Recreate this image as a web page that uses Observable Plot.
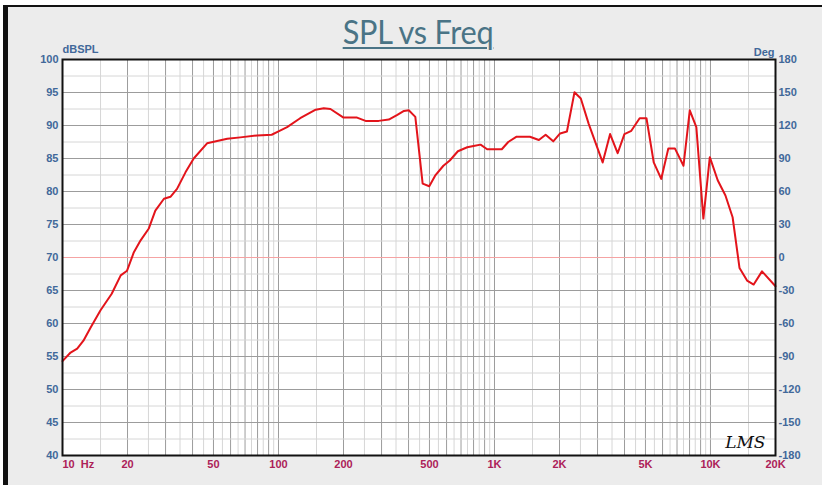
<!DOCTYPE html>
<html>
<head>
<meta charset="utf-8">
<script src="https://cdn.jsdelivr.net/npm/d3@7"></script>
<script src="https://cdn.jsdelivr.net/npm/@observablehq/plot@0.6"></script>
<style>
  html, body { margin: 0; padding: 0; background: #ffffff; }
  #wrap { position: relative; width: 822px; height: 485px; overflow: hidden; }
  #frame { position: absolute; left: 3px; top: 5px; width: 819px; height: 480px; background: #ececec;
           border-top: 2px solid #111; border-left: 5px solid #111; box-sizing: border-box; }
  #title { position: absolute; left: 0; width: 836px; top: 13px; text-align: center;
           font-family: Lato, "Open Sans", sans-serif; font-size: 33px; line-height: 36px; color: #4a7486;
           text-decoration: underline; text-decoration-thickness: 2px; text-underline-offset: 3px; letter-spacing: -0.3px;
           transform: scaleX(0.93); transform-origin: 418px 0; }
  #chart { position: absolute; left: 0; top: 0; }
  #chart svg { background: transparent !important; }
</style>
</head>
<body>
<div id="wrap">
  <div id="frame"></div>
  <div id="chart"></div>
  <div id="title">SPL vs Freq</div>
</div>
<script>
// Frequency (Hz) and SPL (dB)
const freq = [10, 10.9, 11.7, 12.5, 13.5, 15, 16.9, 18.6, 19.9, 21.4,
  23, 25.1, 26.9, 29.5, 31.6, 33.9, 37.1, 40.5, 46.7, 57.9,
  66.6, 79.7, 93, 100, 109.6, 126, 148.7, 162, 174, 200,
  231, 253, 291, 324, 355, 381, 401, 430, 465, 499,
  531, 580, 621, 677, 748, 800, 862, 925, 1081, 1158,
  1266, 1459, 1605, 1725, 1871, 2013, 2165, 2347, 2510, 2730,
  3168, 3430, 3717, 3995, 4300, 4700, 5055, 5461, 5915, 6380,
  6851, 7500, 8020, 8600, 9270, 9930, 10800, 11730, 12660, 13630,
  14770, 15850, 17320, 20000];
const spl = [54.3, 55.6, 56.2, 57.4, 59.4, 62.0, 64.5, 67.3, 68.0, 70.8,
  72.6, 74.4, 77.1, 78.9, 79.2, 80.4, 82.9, 85.0, 87.3, 88.0,
  88.2, 88.5, 88.6, 89.1, 89.75, 91.1, 92.4, 92.6, 92.5, 91.2,
  91.2, 90.7, 90.7, 90.9, 91.6, 92.2, 92.3, 91.3, 81.2, 80.8,
  82.4, 83.9, 84.7, 86.1, 86.7, 86.9, 87.1, 86.4, 86.4, 87.5,
  88.3, 88.3, 87.8, 88.6, 87.6, 88.8, 89.1, 95.05, 94.1, 90.25,
  84.4, 88.7, 85.8, 88.7, 89.2, 91.1, 91.1, 84.4, 81.9, 86.5,
  86.5, 83.9, 92.3, 89.75, 75.9, 85.2, 81.7, 79.4, 76.1, 68.4,
  66.5, 65.9, 67.9, 65.65];

const yTicks = [100, 95, 90, 85, 80, 75, 70, 65, 60, 55, 50, 45, 40];
const yLabels = ["100", "95", "90", "85", "80", "75", "70", "65", "60", "55", "50", "45", "40"];
const degLabels = ["180", "150", "120", "90", "60", "30", "0", "-30", "-60", "-90", "-120", "-150", "-180"];
const xTicks = [20, 50, 100, 200, 500, 1000, 2000, 5000, 10000, 20000];
const xLabels = ["20", "50", "100", "200", "500", "1K", "2K", "5K", "10K", "20K"];
const firstXTick = [10];
const firstXLabel = ["10\u00a0\u00a0Hz"];

const data = freq.map((f, i) => ({f, db: spl[i]}));

// grid positions
const majorX = [], minorX = [];
for (let k = 10; k <= 10000; k *= 10) {
  for (let d = 1; d <= 9; d++) {
    if (d * k > 10 && d * k < 20000) majorX.push(d * k);
    if ((d + 0.5) * k < 20000) minorX.push((d + 0.5) * k);
  }
}
const majorY = d3.range(45, 100, 5);
const minorY = d3.range(42.5, 100, 5);

const axisFont = '"Liberation Sans Narrow", "Liberation Sans", Arial, sans-serif';
const blue = "#41689a";
const crimson = "#ad2158";

const chart = Plot.plot({
  width: 822,
  height: 485,
  marginLeft: 62,
  marginRight: 47,
  marginTop: 59,
  marginBottom: 30,
  style: {background: "transparent"},
  x: {type: "log", domain: [10, 20000], axis: null},
  y: {domain: [40, 100], axis: null},
  marks: [
    Plot.frame({fill: "white", stroke: "none"}),
    Plot.ruleX(minorX, {stroke: "#d6d6d6", strokeWidth: 1}),
    Plot.ruleX(majorX, {stroke: "#9c9c9c", strokeWidth: 1}),
    Plot.ruleY(minorY, {stroke: "#d6d6d6", strokeWidth: 1}),
    Plot.ruleY(majorY, {stroke: "#9c9c9c", strokeWidth: 1}),
    Plot.ruleY([70], {stroke: "#f5a3a3", strokeWidth: 1.2}),
    Plot.line(data, {x: "f", y: "db", stroke: "#e3141b", strokeWidth: 2, curve: "linear"}),
    Plot.frame({stroke: "#111", strokeWidth: 2}),
    Plot.text(yTicks, {y: d => d, text: (d, i) => yLabels[i], frameAnchor: "left", dx: -4, textAnchor: "end",
      fill: blue, fontWeight: "bold", fontSize: 11, fontFamily: axisFont}),
    Plot.text(yTicks, {y: d => d, text: (d, i) => degLabels[i], frameAnchor: "right", dx: 3, textAnchor: "start",
      fill: blue, fontWeight: "bold", fontSize: 11, fontFamily: axisFont}),
    Plot.text(["dBSPL"], {frameAnchor: "top-left", dx: 0, dy: -7, textAnchor: "start", lineAnchor: "bottom",
      fill: blue, fontWeight: "bold", fontSize: 11, fontFamily: axisFont}),
    Plot.text(["Deg"], {frameAnchor: "top-right", dx: -1, dy: -4, textAnchor: "end", lineAnchor: "bottom",
      fill: blue, fontWeight: "bold", fontSize: 11, fontFamily: axisFont}),
    Plot.text(xTicks, {x: d => d, text: (d, i) => xLabels[i], frameAnchor: "bottom", dy: 9, lineAnchor: "middle",
      fill: crimson, fontWeight: "bold", fontSize: 11, fontFamily: axisFont}),
    Plot.text(firstXTick, {x: d => d, text: (d, i) => firstXLabel[i], frameAnchor: "bottom", dy: 9, lineAnchor: "middle",
      textAnchor: "start", fill: crimson, fontWeight: "bold", fontSize: 11, fontFamily: axisFont}),
    Plot.text(["LMS"], {frameAnchor: "bottom-right", dx: -10, dy: -8, textAnchor: "end", lineAnchor: "bottom",
      fill: "#111", fontStyle: "italic", fontSize: 17, fontFamily: "DejaVu Serif, serif"})
  ]
});
document.getElementById("chart").appendChild(chart);
</script>
</body>
</html>
